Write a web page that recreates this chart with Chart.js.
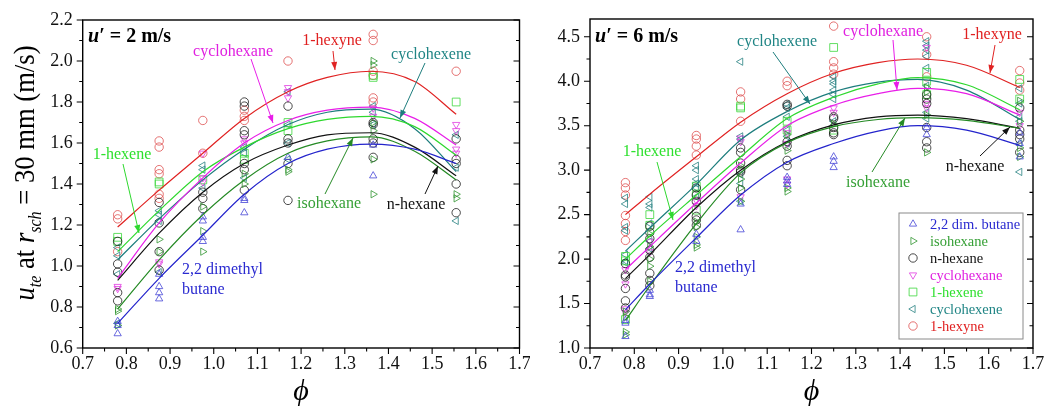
<!DOCTYPE html>
<html lang="en">
<head>
<meta charset="UTF-8">
<title>u_te at r_sch = 30 mm vs phi</title>
<script src="https://cdn.jsdelivr.net/npm/chart.js"></script>
<style>
  body { margin: 0; background: #fff; }
  #wrap { position: relative; width: 1047px; height: 412px; overflow: hidden; }
  #left { position: absolute; left: 0; top: 0; }
  #right { position: absolute; left: 530px; top: 0; }
</style>
</head>
<body>
<div id="wrap">
  <canvas id="left" width="530" height="412"></canvas>
  <canvas id="right" width="517" height="412"></canvas>
</div>
<script>
// ---- data: u' = 2 m/s (left) ----
const colsL = [0.78, 0.875, 0.975, 1.07, 1.17, 1.365, 1.555];
const ptsL_butane = [[0.73, 0.71, 0.67], [0.96, 0.90, 0.87, 0.84], [1.24, 1.22, 1.14, 1.12], [1.33, 1.32, 1.26], [1.53], [1.59, 1.44], []];
const ptsL_iso = [[0.79, 0.78, 0.71], [1.13, 1.07], [1.29, 1.17, 1.07], [1.45, 1.40], [1.47, 1.46], [2.00, 1.98, 1.70, 1.66, 1.52, 1.35], [1.35, 1.33]];
const ptsL_nhex = [[1.12, 1.01, 0.97, 0.87, 0.83], [1.31, 1.21, 1.07, 0.98], [1.36, 1.33, 1.28], [1.80, 1.78, 1.66, 1.64, 1.50, 1.47, 1.37], [1.78, 1.62, 1.60, 1.50, 1.32], [1.70, 1.69, 1.62, 1.60, 1.53], [1.62, 1.52, 1.50, 1.40, 1.26]];
const ptsL_cyane = [[0.90, 0.89], [1.02, 1.01], [1.55, 1.43, 1.41], [1.62, 1.60], [1.87, 1.85, 1.82], [1.77, 1.73], [1.69, 1.66, 1.57, 1.55]];
const ptsL_hexene = [[1.14, 1.12], [1.41, 1.40], [1.42], [1.55, 1.52], [1.70, 1.66], [1.93, 1.92], [1.80]];
const ptsL_cyene = [[1.09, 1.05, 0.96, 0.72], [1.27, 1.25, 1.22, 0.97], [1.49, 1.47, 1.38], [1.58, 1.55, 1.43], [1.85, 1.69, 1.60, 1.52], [1.78, 1.75, 1.69], [1.64, 1.48, 1.22]];
const ptsL_hexyne = [[1.25, 1.23, 1.07], [1.61, 1.58, 1.47, 1.45, 1.35, 1.33], [1.71, 1.55], [1.76, 1.73, 1.71], [2.00], [2.13, 2.10, 1.95, 1.93, 1.82, 1.80], [1.95]];

const fitXL = [0.78, 0.875, 0.975, 1.07, 1.17, 1.26, 1.36, 1.46, 1.555];
const fitL_butane = [0.72, 0.94, 1.15, 1.35, 1.50, 1.57, 1.595, 1.57, 1.50];
const fitL_iso = [0.79, 1.03, 1.25, 1.42, 1.55, 1.61, 1.63, 1.56, 1.42];
const fitL_nhex = [0.93, 1.16, 1.36, 1.50, 1.59, 1.64, 1.65, 1.58, 1.44];
const fitL_cyane = [0.94, 1.21, 1.43, 1.60, 1.71, 1.76, 1.775, 1.72, 1.59];
const fitL_hexene = [1.07, 1.27, 1.46, 1.58, 1.67, 1.715, 1.73, 1.68, 1.54];
const fitL_cyene = [1.03, 1.23, 1.42, 1.57, 1.69, 1.75, 1.765, 1.67, 1.46];
const fitL_hexyne = [1.19, 1.37, 1.55, 1.72, 1.85, 1.92, 1.95, 1.90, 1.74];

// ---- data: u' = 6 m/s (right) ----
const colsR = [0.78, 0.835, 0.94, 1.04, 1.145, 1.25, 1.46, 1.67];
const ptsR_butane = [[1.31, 1.28, 1.13], [1.65, 1.60, 1.58], [2.28, 2.20], [2.62, 2.33], [2.92, 2.88, 2.84], [3.15, 3.10, 3.03], [3.48, 3.40], [3.42, 3.30, 3.15]];
const ptsR_iso = [[1.41, 1.35, 1.18, 1.15], [2.28, 2.14, 2.00, 1.92, 1.75], [2.42, 2.36, 2.25, 2.16, 2.13], [3.05, 2.90, 2.80, 2.65], [3.40, 3.22, 2.80, 2.76], [3.52], [3.93, 3.88, 3.62, 3.20], [3.78, 3.55, 3.25, 3.15]];
const ptsR_nhex = [[1.95, 1.82, 1.80, 1.67, 1.53, 1.45], [2.37, 2.30, 2.23, 2.10, 2.02, 1.84, 1.76, 1.70], [2.80, 2.72, 2.65, 2.48, 2.44, 2.38], [3.25, 3.20, 3.08, 3.00, 2.98, 2.78], [3.74, 3.72, 3.32, 3.27, 3.11, 3.05], [3.60, 3.58, 3.48, 3.42, 3.40], [3.85, 3.80, 3.75, 3.48, 3.32, 3.25], [3.70, 3.45, 3.40, 3.35, 3.20]];
const ptsR_cyane = [[1.88, 1.72, 1.44, 1.40], [2.20, 2.08], [2.66, 2.60], [3.36, 3.32, 2.70], [3.42, 3.30, 2.90, 2.84], [3.70, 3.65], [4.38, 3.75, 3.70], [3.65, 3.50]];
const ptsR_hexene = [[2.03, 1.98, 1.32], [2.50, 2.38], [2.82, 2.72, 2.55], [3.72, 3.70], [3.55, 3.45], [4.38, 3.45], [4.10, 4.00, 3.85], [4.02, 3.80]];
const ptsR_cyene = [[2.69, 2.62, 2.36, 2.32, 2.05, 1.98, 1.96], [2.70, 2.62, 2.58, 2.40, 2.20, 2.12], [3.05, 3.00, 2.90, 2.85, 2.80, 2.70], [4.22, 3.38, 3.35, 2.95, 2.85, 2.65], [3.74, 3.70, 3.60, 3.45, 3.38, 3.30], [4.05, 4.00, 3.97, 3.90, 3.85, 3.80, 3.55], [4.45, 4.40, 4.35, 4.28, 4.15, 3.95, 3.65, 3.58], [3.92, 3.75, 3.60, 3.55, 3.30, 2.98]];
const ptsR_hexyne = [[2.86, 2.80, 2.72, 2.49, 2.40, 2.31, 2.21], [], [3.39, 3.35, 3.27, 3.17], [3.88, 3.80, 3.55], [4.00, 3.95], [4.62, 4.22, 4.15, 4.08], [4.50, 4.30, 4.05], [4.12, 3.98, 3.90]];

const fitXR = [0.78, 0.835, 0.94, 1.04, 1.145, 1.25, 1.35, 1.44, 1.55, 1.67];
const fitR_butane = [1.43, 1.72, 2.24, 2.72, 3.09, 3.30, 3.44, 3.50, 3.45, 3.28];
const fitR_iso = [1.31, 1.70, 2.40, 2.97, 3.31, 3.49, 3.57, 3.59, 3.56, 3.47];
const fitR_nhex = [1.78, 2.05, 2.58, 3.00, 3.32, 3.51, 3.60, 3.62, 3.58, 3.47];
const fitR_cyane = [1.88, 2.14, 2.63, 3.08, 3.50, 3.73, 3.86, 3.92, 3.86, 3.62];
const fitR_hexene = [2.00, 2.26, 2.72, 3.15, 3.58, 3.82, 3.97, 4.04, 3.96, 3.68];
const fitR_cyene = [2.09, 2.35, 2.84, 3.34, 3.66, 3.88, 3.99, 4.02, 3.90, 3.57];
const fitR_hexyne = [2.50, 2.73, 3.15, 3.54, 3.86, 4.09, 4.21, 4.25, 4.18, 3.93];

const names = ['2,2 dim. butane', 'isohexane', 'n-hexane', 'cyclohexane', '1-hexene', 'cyclohexene', '1-hexyne'];

// styles (same order as names)
const looks = [
  { line: '#2424cc', mark: 'rgba(70,70,215,0.8)', shape: 'triangle', rot: 0 },
  { line: '#258a25', mark: 'rgba(50,150,50,0.8)', shape: 'triangle', rot: 90 },
  { line: '#111111', mark: 'rgba(30,30,30,0.8)', shape: 'circle', rot: 0 },
  { line: '#e81ee8', mark: 'rgba(225,60,225,0.8)', shape: 'triangle', rot: 180 },
  { line: '#2ed82e', mark: 'rgba(60,215,60,0.8)', shape: 'rect', rot: 0 },
  { line: '#1d7d7d', mark: 'rgba(40,130,130,0.8)', shape: 'triangle', rot: 270 },
  { line: '#e02222', mark: 'rgba(220,70,70,0.75)', shape: 'circle', rot: 0 }
];
const textCol = ['#2a2ad0', '#36a036', '#111', '#e020e0', '#2ee02e', '#208585', '#e02020'];

const FONT = 'Liberation Serif, serif';

function toPts(cols, groups) {
  const out = [];
  groups.forEach((g, i) => g.forEach(v => out.push({ x: cols[i], y: v })));
  return out;
}
function toCurve(xs, ys) {
  return xs.map((x, i) => ({ x: x, y: ys[i] }));
}

function buildSets(cols, ptsList, fitX, fitList) {
  const lines = fitList.map((f, i) => ({
    data: toCurve(fitX, f),
    showLine: true,
    borderColor: looks[i].line,
    borderWidth: 1.2,
    pointRadius: 0,
    cubicInterpolationMode: 'monotone',
    fill: false
  }));
  const marks = ptsList.map((p, i) => ({
    data: toPts(cols, p),
    showLine: false,
    pointStyle: looks[i].shape,
    pointRotation: looks[i].rot,
    pointRadius: looks[i].shape === 'rect' ? 5.5 : 4.2,
    pointBorderWidth: 1,
    pointBorderColor: looks[i].mark,
    pointBackgroundColor: 'rgba(0,0,0,0)'
  }));
  return lines.concat(marks);
}

// frame with major / minor ticks
const framePlugin = {
  id: 'frame',
  afterDatasetsDraw(chart) {
    const { ctx, chartArea: a, scales } = chart;
    const split = (s) => {
      const maj = s.ticks.map(t => t.value);
      const min = [];
      for (let i = 0; i < maj.length - 1; i++) min.push((maj[i] + maj[i + 1]) / 2);
      return { maj, min };
    };
    ctx.save();
    ctx.strokeStyle = '#000';
    ctx.lineWidth = 1.4;
    ctx.strokeRect(a.left, a.top, a.right - a.left, a.bottom - a.top);
    ctx.lineWidth = 1.1;
    ctx.beginPath();
    const X = split(scales.x), Y = split(scales.y);
    X.maj.forEach(v => { const p = scales.x.getPixelForValue(v); ctx.moveTo(p, a.bottom); ctx.lineTo(p, a.bottom + 6); });
    X.min.forEach(v => { const p = scales.x.getPixelForValue(v); ctx.moveTo(p, a.bottom); ctx.lineTo(p, a.bottom + 3.5); });
    Y.maj.forEach(v => {
      const p = scales.y.getPixelForValue(v);
      ctx.moveTo(a.left, p); ctx.lineTo(a.left - 6, p);
      ctx.moveTo(a.right, p); ctx.lineTo(a.right - 6, p);
    });
    Y.min.forEach(v => {
      const p = scales.y.getPixelForValue(v);
      ctx.moveTo(a.left, p); ctx.lineTo(a.left - 3.5, p);
      ctx.moveTo(a.right, p); ctx.lineTo(a.right - 3.5, p);
    });
    ctx.stroke();
    ctx.restore();
  }
};

function runsWidth(ctx, runs) {
  let w = 0;
  runs.forEach(r => { ctx.font = r.f; w += ctx.measureText(r.t).width; });
  return w;
}
function drawRuns(ctx, runs, x, y, color) {
  ctx.fillStyle = color;
  ctx.textBaseline = 'alphabetic';
  ctx.textAlign = 'left';
  runs.forEach(r => {
    ctx.font = r.f;
    ctx.fillText(r.t, x, y + (r.dy || 0));
    x += ctx.measureText(r.t).width;
  });
}
function arrow(ctx, a, color) {
  const [x1, y1, x2, y2] = a;
  ctx.strokeStyle = color;
  ctx.fillStyle = color;
  ctx.lineWidth = 1;
  ctx.beginPath(); ctx.moveTo(x1, y1); ctx.lineTo(x2, y2); ctx.stroke();
  const ang = Math.atan2(y2 - y1, x2 - x1), L = 8, W = 3;
  ctx.beginPath();
  ctx.moveTo(x2, y2);
  ctx.lineTo(x2 - L * Math.cos(ang) + W * Math.sin(ang), y2 - L * Math.sin(ang) - W * Math.cos(ang));
  ctx.lineTo(x2 - L * Math.cos(ang) - W * Math.sin(ang), y2 - L * Math.sin(ang) + W * Math.cos(ang));
  ctx.closePath();
  ctx.fill();
}

// labels, arrows, panel title, axis titles, legend
const notesPlugin = {
  id: 'notes',
  afterDraw(chart, args, o) {
    const ctx = chart.ctx;
    const a = chart.chartArea;
    ctx.save();
    // panel title
    drawRuns(ctx, [
      { t: 'u\u2032', f: 'italic bold 20px ' + FONT },
      { t: ' = ' + o.speed + ' m/s', f: 'bold 20px ' + FONT }
    ], o.titleX, 42, '#000');
    // species labels
    ctx.font = '16px ' + FONT;
    o.items.forEach(it => {
      const c = textCol[it.s];
      ctx.fillStyle = c;
      ctx.textAlign = it.align || 'center';
      ctx.textBaseline = 'middle';
      it.text.forEach((t, k) => ctx.fillText(t, it.x, it.y + k * 20));
      if (it.arrow) arrow(ctx, it.arrow, looks[it.s].line);
    });
    // x title
    ctx.fillStyle = '#000';
    ctx.font = 'italic 30px ' + FONT;
    ctx.textAlign = 'center';
    ctx.textBaseline = 'middle';
    ctx.fillText('\u03d5', (a.left + a.right) / 2, 392);
    // y title
    if (o.yTitle) {
      const runs = [
        { t: 'u', f: 'italic 30px ' + FONT },
        { t: 'te', f: 'italic 18px ' + FONT, dy: 7 },
        { t: ' at ', f: '30px ' + FONT },
        { t: 'r', f: 'italic 30px ' + FONT },
        { t: 'sch', f: 'italic 18px ' + FONT, dy: 7 },
        { t: ' = 30 mm (m/s)', f: '30px ' + FONT }
      ];
      const w = runsWidth(ctx, runs);
      const k = 255 / w;
      ctx.save();
      ctx.translate(34, 173);
      ctx.rotate(-Math.PI / 2);
      ctx.scale(k, 1);
      drawRuns(ctx, runs, -w / 2, 0, '#000');
      ctx.restore();
    }
    // legend
    if (o.legend) {
      const L = o.legend;
      ctx.strokeStyle = '#8a8a8a';
      ctx.lineWidth = 1;
      ctx.strokeRect(L.x, L.y, L.w, L.h);
      ctx.font = '14.5px ' + FONT;
      ctx.textAlign = 'left';
      ctx.textBaseline = 'middle';
      names.forEach((n, i) => {
        const yy = L.y + 11 + i * 17;
        ctx.strokeStyle = looks[i].mark;
        ctx.fillStyle = 'rgba(0,0,0,0)';
        Chart.helpers.drawPoint(ctx, {
          pointStyle: looks[i].shape,
          rotation: looks[i].rot,
          radius: looks[i].shape === 'rect' ? 5.5 : 4.2,
          borderWidth: 1
        }, L.x + 14, yy);
        ctx.fillStyle = textCol[i];
        ctx.fillText(n, L.x + 31, yy + 1);
      });
    }
    ctx.restore();
  }
};

function axes(xMin, xMax, xStep, yMin, yMax, yStep, yWidth) {
  const tickFont = { family: FONT, size: 18 };
  return {
    x: {
      type: 'linear', min: xMin, max: xMax,
      grid: { display: false, drawTicks: false },
      border: { display: false },
      ticks: { stepSize: xStep, includeBounds: false, font: tickFont, color: '#111', padding: 5, maxRotation: 0, autoSkip: false,
        callback: v => v.toFixed(1) },
      afterFit: s => { s.height = 64; s.paddingLeft = 0; s.paddingRight = 0; }
    },
    y: {
      type: 'linear', min: yMin, max: yMax,
      grid: { display: false, drawTicks: false },
      border: { display: false },
      ticks: { stepSize: yStep, includeBounds: false, font: tickFont, color: '#111', padding: 10, autoSkip: false,
        callback: v => v.toFixed(1) },
      afterFit: s => { s.width = yWidth; s.paddingTop = 0; s.paddingBottom = 0; }
    }
  };
}

function makeChart(id, sets, scales, pad, notes) {
  return new Chart(document.getElementById(id), {
    type: 'scatter',
    data: { datasets: sets },
    options: {
      responsive: false,
      animation: false,
      devicePixelRatio: 1,
      layout: { padding: pad },
      scales: scales,
      plugins: { legend: { display: false }, tooltip: { enabled: false }, notes: notes }
    },
    plugins: [framePlugin, notesPlugin]
  });
}

makeChart('left',
  buildSets(colsL,
    [ptsL_butane, ptsL_iso, ptsL_nhex, ptsL_cyane, ptsL_hexene, ptsL_cyene, ptsL_hexyne],
    fitXL,
    [fitL_butane, fitL_iso, fitL_nhex, fitL_cyane, fitL_hexene, fitL_cyene, fitL_hexyne]),
  axes(0.7, 1.7, 0.1, 0.6, 2.2, 0.2, 82.7),
  { top: 20, right: 10.5, left: 0, bottom: 0 },
  {
    speed: 2, titleX: 88, yTitle: true,
    items: [
      { s: 6, text: ['1-hexyne'], x: 332, y: 41, arrow: [333, 51, 335, 70] },
      { s: 3, text: ['cyclohexane'], x: 233, y: 52, arrow: [251, 59, 273, 123] },
      { s: 5, text: ['cyclohexene'], x: 431, y: 55, arrow: [425, 63, 400, 118] },
      { s: 4, text: ['1-hexene'], x: 122, y: 155, arrow: [123, 164, 139, 233] },
      { s: 1, text: ['isohexane'], x: 329, y: 204, arrow: [325, 194, 353, 138] },
      { s: 2, text: ['n-hexane'], x: 416, y: 205, arrow: [425, 194, 438, 166] },
      { s: 0, text: ['2,2 dimethyl', 'butane'], x: 182, y: 270, align: 'left' }
    ]
  });

makeChart('right',
  buildSets(colsR,
    [ptsR_butane, ptsR_iso, ptsR_nhex, ptsR_cyane, ptsR_hexene, ptsR_cyene, ptsR_hexyne],
    fitXR,
    [fitR_butane, fitR_iso, fitR_nhex, fitR_cyane, fitR_hexene, fitR_cyene, fitR_hexyne]),
  axes(0.7, 1.7, 0.1, 1.0, 4.7, 0.5, 60),
  { top: 19, right: 14, left: 0, bottom: 0 },
  {
    speed: 6, titleX: 65, yTitle: false,
    items: [
      { s: 5, text: ['cyclohexene'], x: 247, y: 42, arrow: [243, 52, 280, 104] },
      { s: 3, text: ['cyclohexane'], x: 353, y: 32, arrow: [363, 40, 367, 90] },
      { s: 6, text: ['1-hexyne'], x: 462, y: 35, arrow: [465, 45, 460, 73] },
      { s: 2, text: ['n-hexane'], x: 445, y: 167, arrow: [450, 156, 480, 127] },
      { s: 1, text: ['isohexane'], x: 348, y: 183, arrow: [342, 172, 375, 118] },
      { s: 4, text: ['1-hexene'], x: 122, y: 152, arrow: [127, 162, 143, 220] },
      { s: 0, text: ['2,2 dimethyl', 'butane'], x: 145, y: 268, align: 'left' }
    ],
    legend: { x: 369, y: 213, w: 124, h: 126 }
  });
</script>
</body>
</html>
